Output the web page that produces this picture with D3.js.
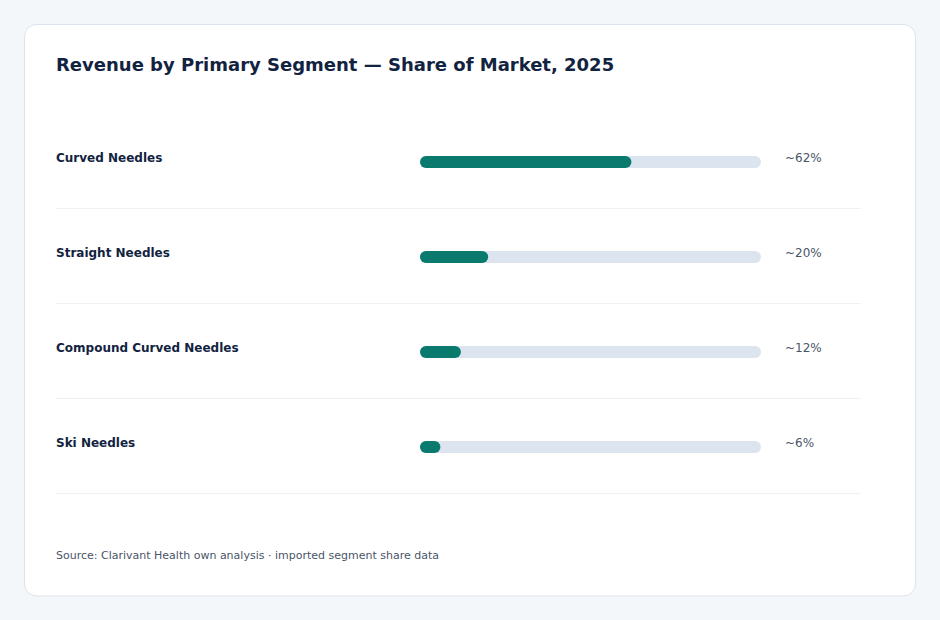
<!DOCTYPE html>
<html>
<head>
<meta charset="utf-8">
<script src="https://cdn.jsdelivr.net/npm/d3@7"></script>
<style>
  html, body { margin: 0; padding: 0; background: #f4f7fa; }
  body { width: 940px; height: 620px; font-family: "DejaVu Sans", sans-serif; }
</style>
</head>
<body>
<div id="chart"></div>
<script>
// Segment data
const segments = ["Curved Needles", "Straight Needles", "Compound Curved Needles", "Ski Needles"];
const shares = [62, 20, 12, 6];
const shareLabels = ["~62%", "~20%", "~12%", "~6%"];

const width = 940;
const height = 620;

const svg = d3.select("#chart")
    .append("svg")
    .attr("width", width)
    .attr("height", height);

// Card
svg.append("rect")
    .attr("x", 24.5)
    .attr("y", 24.5)
    .attr("width", 891)
    .attr("height", 571.5)
    .attr("rx", 12)
    .attr("fill", "#ffffff")
    .attr("stroke", "#dde3ea");

// Title
svg.append("text")
    .attr("x", 56)
    .attr("y", 71)
    .attr("font-size", 18)
    .attr("font-weight", "bold")
    .attr("fill", "#12233f")
    .text("Revenue by Primary Segment \u2014 Share of Market, 2025");

// Scales
const x = d3.scaleLinear().domain([0, 100]).range([420, 761]);
const y = d3.scaleBand().domain(segments).range([115, 495]).paddingInner(0).paddingOuter(0);
const barH = 12;

const rows = svg.append("g")
    .selectAll("g")
    .data(segments)
    .enter()
    .append("g")
    .attr("transform", d => `translate(0,${y(d)})`);

// Row centre sits at 47 within each band
const mid = 47;

rows.append("text")
    .attr("x", 56)
    .attr("y", mid)
    .attr("font-size", 12)
    .attr("font-weight", "bold")
    .attr("fill", "#12233f")
    .text(d => d);

rows.append("rect")
    .attr("x", x(0))
    .attr("y", mid - barH / 2)
    .attr("width", x(100) - x(0))
    .attr("height", barH)
    .attr("rx", 6)
    .attr("fill", "#dce5ef");

rows.append("rect")
    .attr("x", x(0))
    .attr("y", mid - barH / 2)
    .attr("width", (d, i) => x(shares[i]) - x(0))
    .attr("height", barH)
    .attr("rx", 6)
    .attr("fill", "#0b7a6e");

rows.append("text")
    .attr("x", 785)
    .attr("y", mid)
    .attr("font-size", 12)
    .attr("fill", "#4a5568")
    .text((d, i) => shareLabels[i]);

rows.append("line")
    .attr("x1", 56)
    .attr("x2", 861)
    .attr("y1", y.bandwidth() - 1.5)
    .attr("y2", y.bandwidth() - 1.5)
    .attr("stroke", "#eef1f5")
    .attr("stroke-width", 1);

// Source note
svg.append("text")
    .attr("x", 56)
    .attr("y", 559)
    .attr("font-size", 11)
    .attr("fill", "#4a5568")
    .text("Source: Clarivant Health own analysis \u00b7 imported segment share data");
</script>
</body>
</html>
